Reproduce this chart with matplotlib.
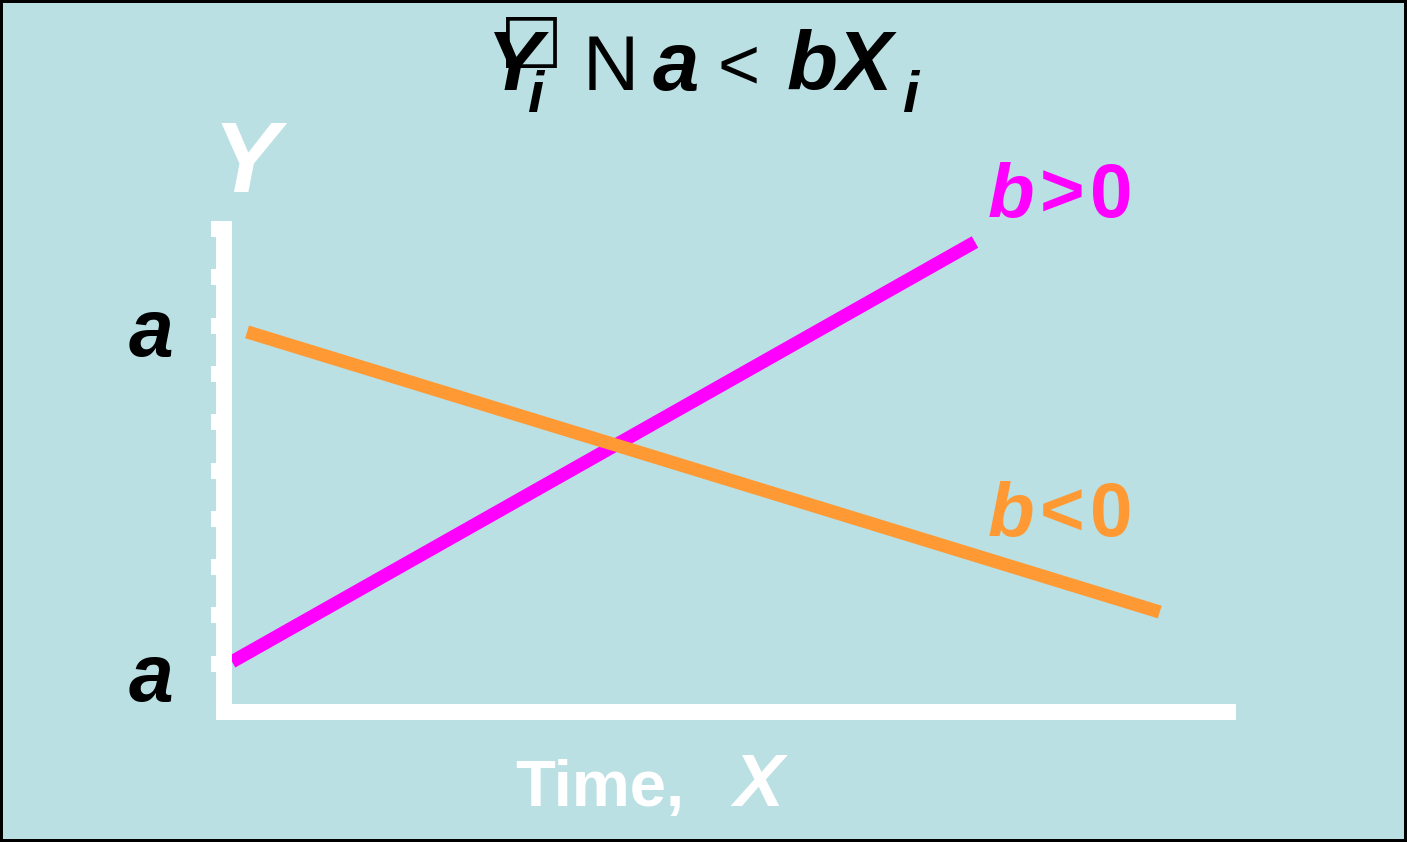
import matplotlib.pyplot as plt

# line end points (x = time, y = Y) in axis units
pos_x = [0.08, 7.48]
pos_y = [1.04, 9.73]
neg_x = [0.23, 9.32]
neg_y = [7.87, 2.07]
yticks = [1, 2, 3, 4, 5, 6, 7, 8, 9, 10]
a_levels = [7.8, 0.66]

bg = '#bae0e3'
magenta = '#ff00ff'
orange = '#ff9933'
W, H = 1407, 842

fig = plt.figure(figsize=(W / 100, H / 100), dpi=100)
fig.patch.set_facecolor(bg)
fig.patch.set_edgecolor('black')
fig.patch.set_linewidth(4)

ax = fig.add_axes([224 / W, 1 - 712 / H, 1004 / W, 483 / H])
ax.set_facecolor(bg)
ax.set_xlim(0, 10)
ax.set_ylim(0, 10)

for side in ['top', 'right']:
    ax.spines[side].set_visible(False)
for side in ['left', 'bottom']:
    ax.spines[side].set_color('white')
    ax.spines[side].set_linewidth(11.5)
    ax.spines[side].set_capstyle('projecting')

ax.set_xticks([])
ax.set_yticks(yticks)
ax.tick_params(axis='y', direction='out', length=9.4, width=11.5,
               color='white', labelleft=False)

ax.plot(pos_x, pos_y, color=magenta, lw=9.5, solid_capstyle='butt', clip_on=False)
ax.plot(neg_x, neg_y, color=orange, lw=9.5, solid_capstyle='butt', clip_on=False)

for lv in a_levels:
    ax.text(-0.73, lv, 'a', fontsize=58, fontweight='bold', style='italic',
            family='Liberation Sans', ha='center', va='center', clip_on=False)

sans = 'Liberation Sans'


def ftext(px, py, s, **kw):
    fig.text(px / W, 1 - py / H, s, va='baseline', **kw)


bi = dict(fontweight='bold', style='italic', family=sans)

# title (with the broken glyphs of the original)
ftext(487, 90, 'Y', fontsize=60, **bi)
fig.text(500 / W, 1 - 8 / H, '\u25a1', fontsize=48, family='DejaVu Sans',
         va='top')
ftext(528, 112, 'i', fontsize=42, **bi)
ftext(583, 90, 'N', fontsize=56, family=sans)
ftext(653, 90, 'a', fontsize=60, **bi)
ftext(718, 88, '<', fontsize=52, family=sans)
ftext(787, 90, 'bX', fontsize=60, **bi)
ftext(903, 112, 'i', fontsize=42, **bi)

# axis labels
ftext(213, 192, 'Y', fontsize=72, color='white', **bi)
ftext(515, 806, 'Time,', fontsize=47, color='white', fontweight='bold',
      family=sans)
ftext(733, 806, 'X', fontsize=54, color='white', **bi)

# slope labels
ftext(988, 217, 'b', fontsize=55, color=magenta, **bi)
ftext(1040, 217, '>', fontsize=55, color=magenta, fontweight='bold', family=sans)
ftext(1090, 217, '0', fontsize=55, color=magenta, fontweight='bold', family=sans)
ftext(988, 536, 'b', fontsize=55, color=orange, **bi)
ftext(1040, 536, '<', fontsize=55, color=orange, fontweight='bold', family=sans)
ftext(1090, 536, '0', fontsize=55, color=orange, fontweight='bold', family=sans)

fig.savefig('out.png', dpi=100, facecolor=bg, edgecolor='black')
